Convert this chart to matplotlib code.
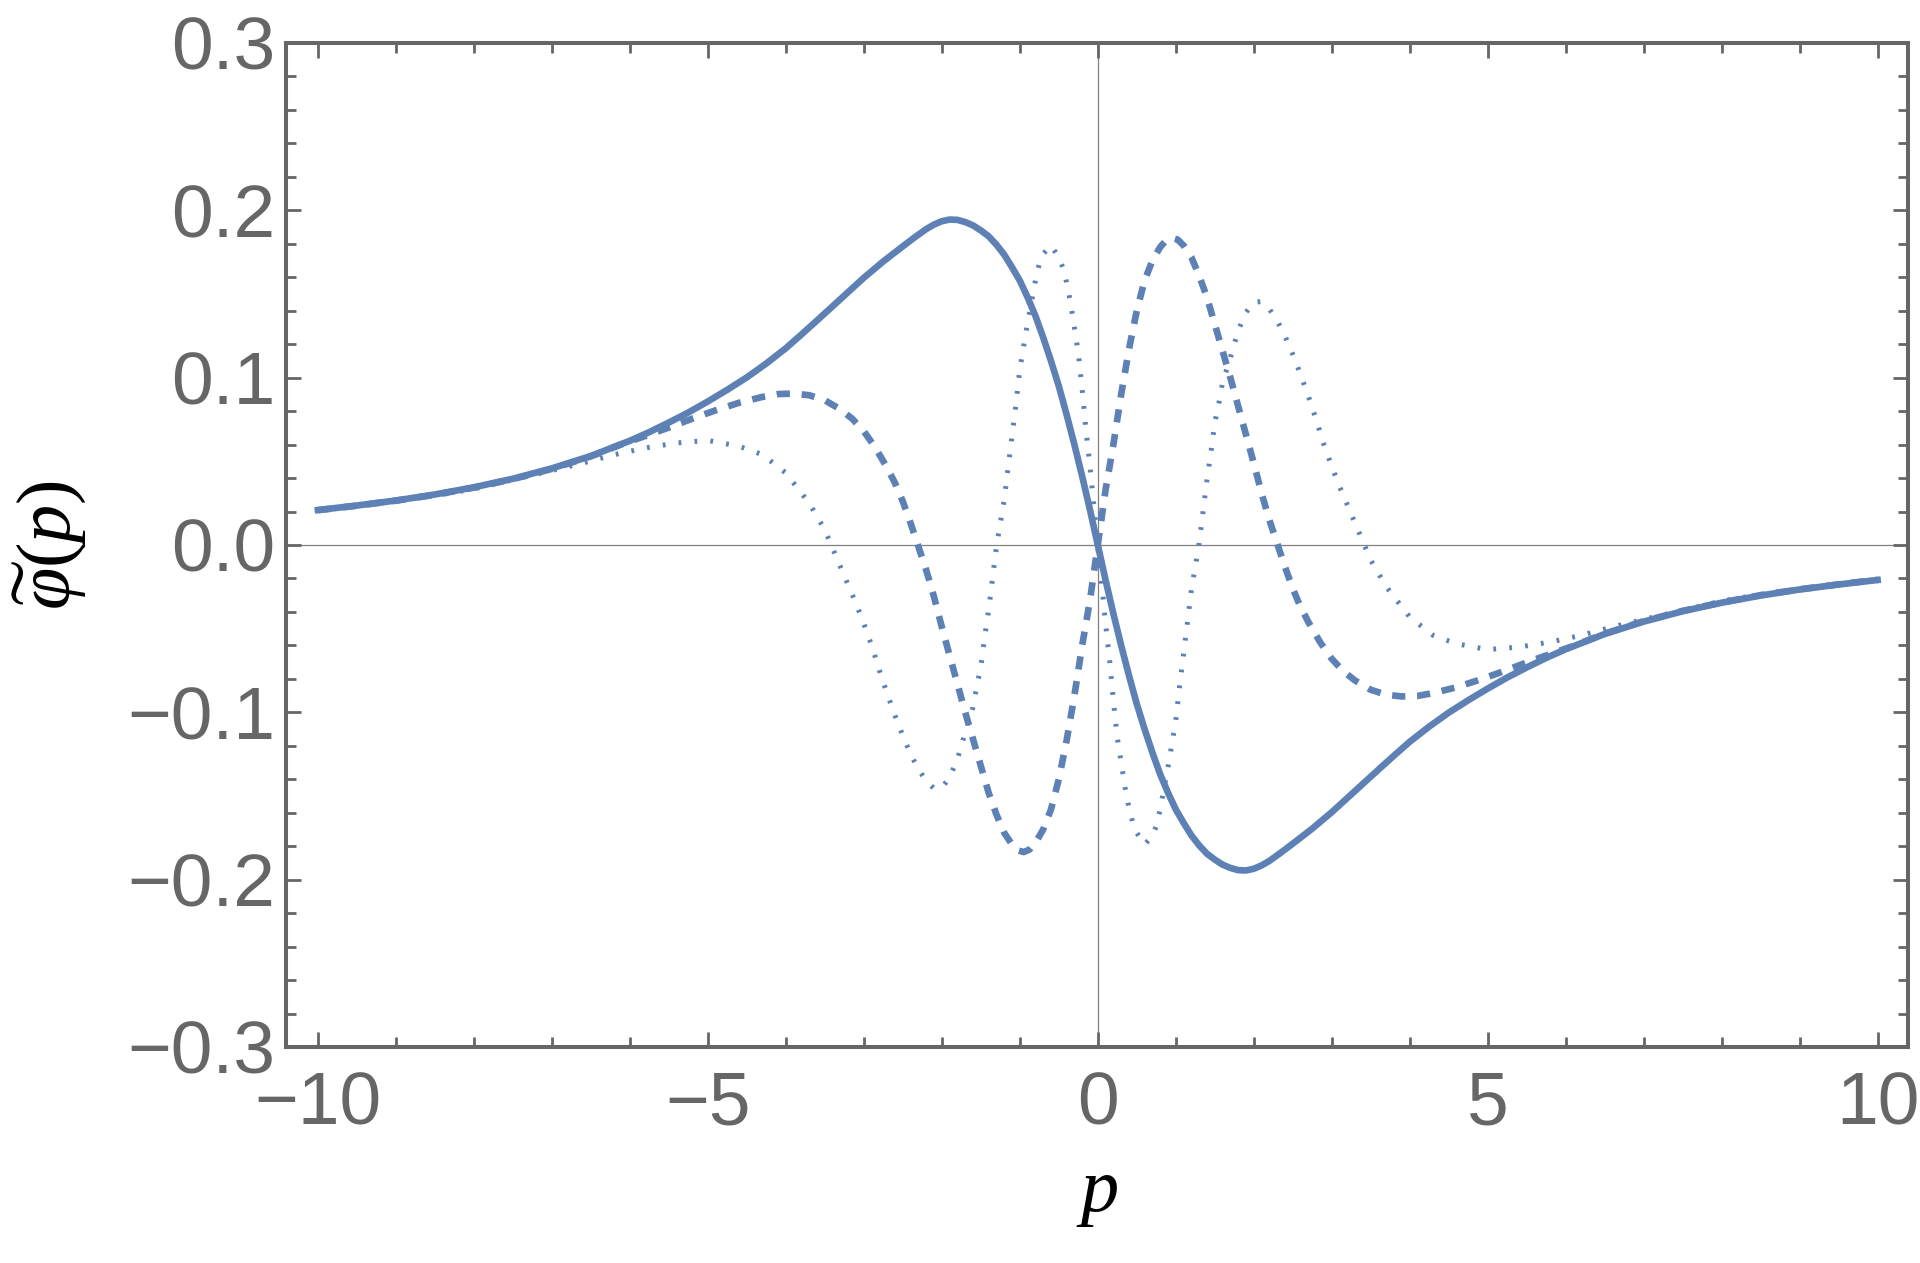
import matplotlib
matplotlib.use("Agg")
import matplotlib.pyplot as plt
from matplotlib.ticker import MultipleLocator

# values, p from -10 to 10
p_solid = [-10, -9.5, -9, -8.5, -8, -7.5, -7, -6.5, -6, -5.75, -5.5, -5.25, -5, -4.75,
           -4.5, -4.25, -4, -3.8, -3.6, -3.4, -3.2, -3, -2.75, -2.5, -2.35, -2.2, -2.1,
           -2, -1.9, -1.8, -1.7, -1.6, -1.5, -1.4, -1.3, -1.2, -1.1, -1, -0.9, -0.8,
           -0.7, -0.6, -0.5, -0.4, -0.3, -0.2, -0.1,
           0,
           0.1, 0.2, 0.3, 0.4, 0.5, 0.6, 0.7, 0.8, 0.9, 1, 1.1, 1.2, 1.3, 1.4, 1.5,
           1.6, 1.7, 1.8, 1.9, 2, 2.1, 2.2, 2.35, 2.5, 2.75, 3, 3.2, 3.4, 3.6, 3.8, 4,
           4.25, 4.5, 4.75, 5, 5.25, 5.5, 5.75, 6, 6.5, 7, 7.5, 8, 8.5, 9, 9.5, 10]
phi_solid = [0.0209, 0.0236, 0.0266, 0.0302, 0.0345, 0.0396, 0.0458, 0.0532, 0.0623,
             0.0675, 0.0732, 0.0792, 0.0858, 0.0928, 0.1002, 0.1085, 0.1176, 0.1258,
             0.1342, 0.1427, 0.1512, 0.1597, 0.1695, 0.1785, 0.1838, 0.1888, 0.1915,
             0.1935, 0.1945, 0.1943, 0.193, 0.191, 0.188, 0.1845, 0.1795, 0.1735, 0.166,
             0.158, 0.148, 0.137, 0.124, 0.110, 0.095, 0.078, 0.060, 0.041, 0.021,
             0.0,
             -0.021, -0.041, -0.060, -0.078, -0.095, -0.110, -0.124, -0.137, -0.148,
             -0.158, -0.166, -0.1735, -0.1795, -0.1845, -0.188, -0.191, -0.193,
             -0.1943, -0.1945, -0.1935, -0.1915, -0.1888, -0.1838, -0.1785, -0.1695,
             -0.1597, -0.1512, -0.1427, -0.1342, -0.1258, -0.1176, -0.1085, -0.1002,
             -0.0928, -0.0858, -0.0792, -0.0732, -0.0675, -0.0623, -0.0532, -0.0458,
             -0.0396, -0.0345, -0.0302, -0.0266, -0.0236, -0.0209]

p_dashed = [-10, -9.5, -9, -8.5, -8, -7.5, -7, -6.5, -6.1, -5.8, -5.5, -5.2, -4.9, -4.6,
            -4.3, -4.1, -3.9, -3.7, -3.5, -3.3, -3.15, -3, -2.85, -2.7, -2.6, -2.5, -2.4,
            -2.3, -2.2, -2.1, -2, -1.9, -1.8, -1.7, -1.6, -1.5, -1.4, -1.3, -1.2, -1.1,
            -1.025, -0.95, -0.875, -0.8, -0.7, -0.6, -0.5, -0.4, -0.3, -0.2, -0.1,
            0,
            0.1, 0.2, 0.3, 0.4, 0.5, 0.6, 0.7, 0.8, 0.875, 0.95, 1.025, 1.1, 1.2, 1.3,
            1.4, 1.5, 1.6, 1.7, 1.8, 1.9, 2, 2.1, 2.2, 2.3, 2.4, 2.5, 2.6, 2.7, 2.85, 3,
            3.15, 3.3, 3.5, 3.7, 3.9, 4.1, 4.3, 4.6, 4.9, 5.2, 5.5, 5.8, 6.1, 6.5, 7,
            7.5, 8, 8.5, 9, 9.5, 10]
phi_dashed = [0.0208, 0.0235, 0.0265, 0.0300, 0.0343, 0.0394, 0.0455, 0.053, 0.0603,
              0.0652, 0.0702, 0.0755, 0.0805, 0.085, 0.0885, 0.0902, 0.0905, 0.0895,
              0.0865, 0.081, 0.0755, 0.068, 0.058, 0.046, 0.037, 0.026, 0.013, -0.001,
              -0.015, -0.031, -0.049, -0.066, -0.083, -0.100, -0.116, -0.132, -0.148,
              -0.161, -0.172, -0.179, -0.1825, -0.1835, -0.182, -0.178, -0.170, -0.158,
              -0.140, -0.117, -0.090, -0.060, -0.033,
              0.0,
              0.033, 0.060, 0.090, 0.117, 0.140, 0.158, 0.170, 0.178, 0.182, 0.1835,
              0.1825, 0.179, 0.172, 0.161, 0.148, 0.132, 0.116, 0.100, 0.083, 0.066,
              0.049, 0.031, 0.015, 0.001, -0.013, -0.026, -0.037, -0.046, -0.058,
              -0.068, -0.0755, -0.081, -0.0865, -0.0895, -0.0905, -0.0902, -0.0885,
              -0.085, -0.0805, -0.0755, -0.0702, -0.0652, -0.0603, -0.053, -0.0455,
              -0.0394, -0.0343, -0.0300, -0.0265, -0.0235, -0.0208]

p_dotted = [-10, -9.5, -9, -8.5, -8, -7.5, -7, -6.6, -6.2, -5.8, -5.4, -5, -4.6, -4.3, -4,
            -3.8, -3.7, -3.6, -3.5, -3.4, -3.3, -3.2, -3.1, -3, -2.9, -2.8, -2.7, -2.6,
            -2.5, -2.4, -2.3, -2.2, -2.1, -2, -1.9, -1.8, -1.7, -1.6, -1.55, -1.5, -1.45,
            -1.4, -1.35, -1.3, -1.25, -1.2, -1.15, -1.1, -1.05, -1, -0.95, -0.9, -0.85,
            -0.8, -0.75, -0.7, -0.6, -0.5, -0.45, -0.4, -0.35, -0.3, -0.25, -0.2, -0.15,
            -0.1, -0.05,
            0,
            0.05, 0.1, 0.15, 0.2, 0.25, 0.3, 0.35, 0.4, 0.45, 0.5, 0.6, 0.7, 0.75, 0.8,
            0.85, 0.9, 0.95, 1, 1.05, 1.1, 1.15, 1.2, 1.25, 1.3, 1.35, 1.4, 1.45, 1.5,
            1.55, 1.6, 1.7, 1.8, 1.9, 2, 2.1, 2.2, 2.3, 2.4, 2.5, 2.6, 2.7, 2.8, 2.9, 3,
            3.1, 3.2, 3.3, 3.4, 3.5, 3.6, 3.7, 3.8, 4, 4.3, 4.6, 5, 5.4, 5.8, 6.2, 6.6,
            7, 7.5, 8, 8.5, 9, 9.5, 10]
phi_dotted = [0.0206, 0.0232, 0.0262, 0.0295, 0.0335, 0.039, 0.0445, 0.049, 0.054, 0.058,
              0.061, 0.0625, 0.059, 0.054, 0.043, 0.031, 0.025, 0.017, 0.009, -0.002,
              -0.013, -0.024, -0.035, -0.047, -0.060, -0.075, -0.089, -0.102, -0.114,
              -0.125, -0.134, -0.141, -0.1455, -0.145, -0.139, -0.128, -0.112, -0.097,
              -0.084, -0.073, -0.055, -0.039, -0.020, -0.001, 0.013, 0.027, 0.046, 0.065,
              0.084, 0.105, 0.119, 0.133, 0.145, 0.158, 0.168, 0.174, 0.179, 0.172,
              0.166, 0.157, 0.145, 0.130, 0.115, 0.093, 0.068, 0.047, 0.023,
              0.0,
              -0.023, -0.047, -0.068, -0.093, -0.115, -0.130, -0.145, -0.157, -0.166,
              -0.172, -0.179, -0.174, -0.168, -0.158, -0.145, -0.133, -0.119, -0.105,
              -0.084, -0.065, -0.046, -0.027, -0.013, 0.001, 0.020, 0.039, 0.055, 0.073,
              0.084, 0.097, 0.112, 0.128, 0.139, 0.145, 0.1455, 0.141, 0.134, 0.125,
              0.114, 0.102, 0.089, 0.075, 0.060, 0.047, 0.035, 0.024, 0.013, 0.002,
              -0.009, -0.017, -0.025, -0.031, -0.043, -0.054, -0.059, -0.0625, -0.061,
              -0.058, -0.054, -0.049, -0.0445, -0.039, -0.0335, -0.0295, -0.0262,
              -0.0232, -0.0206]

x_ticks = [-10, -5, 0, 5, 10]
x_tick_labels = ["\u221210", "\u22125", "0", "5", "10"]
y_ticks = [-0.3, -0.2, -0.1, 0.0, 0.1, 0.2, 0.3]
y_tick_labels = ["\u22120.3", "\u22120.2", "\u22120.1", "0.0", "0.1", "0.2", "0.3"]


def main():
    plt.rcParams["font.family"] = ["Liberation Sans", "DejaVu Sans"]
    # Times-like italic for the axis labels
    plt.rcParams["mathtext.fontset"] = "custom"
    plt.rcParams["mathtext.it"] = "Liberation Serif:italic"
    plt.rcParams["mathtext.rm"] = "Liberation Serif"
    plt.rcParams["mathtext.fallback"] = "stix"
    plt.rcParams["lines.scale_dashes"] = False

    blue = "#5E81B5"
    gray = "#666666"

    fig = plt.figure(figsize=(19.2, 12.63), dpi=100)
    ax = fig.add_axes([286 / 1920, 1 - 1047 / 1263, 1622 / 1920, 1004 / 1263])

    # thin axes through the origin
    ax.axhline(0, color="#808080", lw=0.9, zorder=1)
    ax.axvline(0, color="#808080", lw=0.9, zorder=1)

    ax.plot(p_solid, phi_solid, color=blue, lw=4.8, solid_joinstyle="round", zorder=3)
    ax.plot(p_dashed, phi_dashed, color=blue, lw=4.8, linestyle=(0, (9.5, 8.5)),
            dash_capstyle="butt", zorder=3)
    ax.plot(p_dotted, phi_dotted, color=blue, lw=3.6, linestyle=(0, (2.0, 9.5)),
            dash_capstyle="butt", zorder=3)

    ax.set_xlim(-10.41, 10.39)
    ax.set_ylim(-0.3, 0.3)

    ax.set_xticks(x_ticks)
    ax.set_xticklabels(x_tick_labels)
    ax.set_yticks(y_ticks)
    ax.set_yticklabels(y_tick_labels)
    ax.xaxis.set_minor_locator(MultipleLocator(1))
    ax.yaxis.set_minor_locator(MultipleLocator(0.02))

    ax.tick_params(which="both", direction="in", top=True, right=True, color=gray,
                   width=2.0, labelcolor=gray, labelsize=54)
    ax.tick_params(which="major", length=11)
    ax.tick_params(which="minor", length=7)
    ax.tick_params(axis="x", which="major", pad=17)
    ax.tick_params(axis="y", which="major", pad=7.5)

    for spine in ax.spines.values():
        spine.set_color(gray)
        spine.set_linewidth(2.9)

    ax.set_xlabel(r"$p$", fontsize=55, color="black")
    ax.set_ylabel(r"$\widetilde{\varphi}(p)$", fontsize=55, color="black")
    ax.xaxis.set_label_coords(0.5, -0.111)
    ax.yaxis.set_label_coords(-0.122, 0.5)

    fig.savefig("out.png", dpi=100)


if __name__ == "__main__":
    main()
